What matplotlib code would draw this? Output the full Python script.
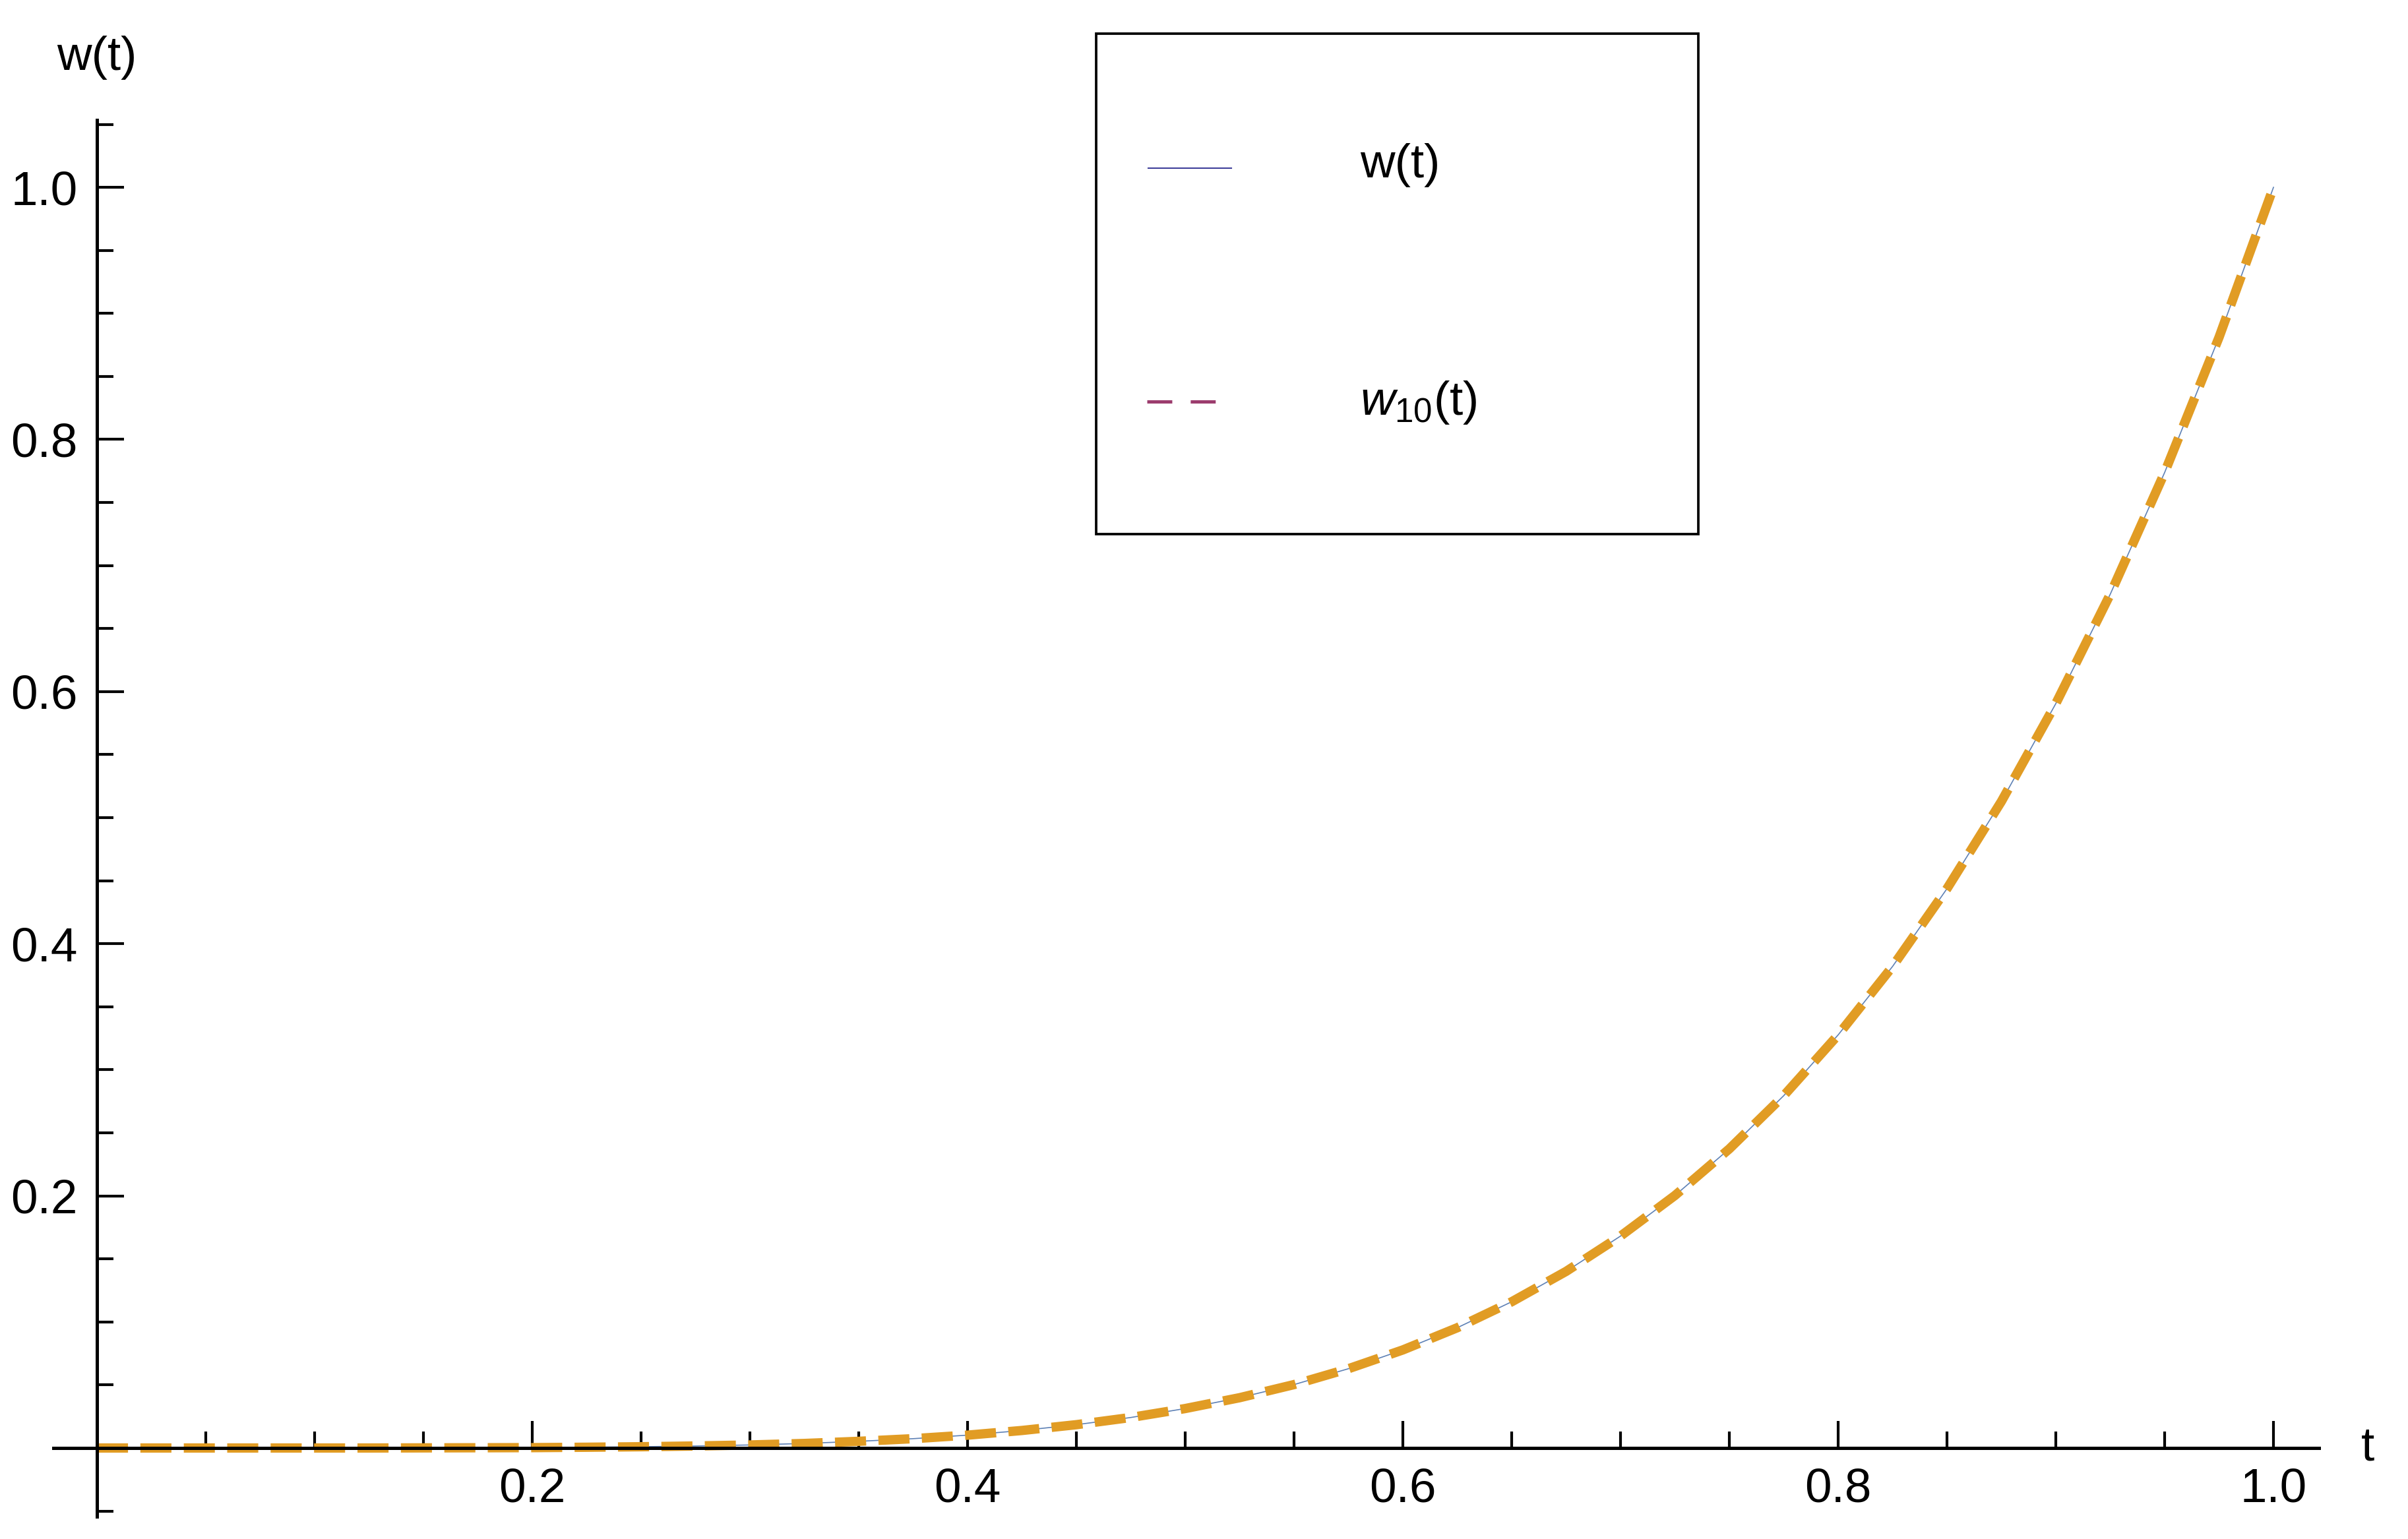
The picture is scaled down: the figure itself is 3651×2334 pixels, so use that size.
import matplotlib
matplotlib.use("Agg")
import matplotlib.pyplot as plt
from matplotlib.lines import Line2D
from matplotlib.patches import Rectangle

plt.rcParams['font.family'] = ['Liberation Sans', 'DejaVu Sans']
plt.rcParams['mathtext.fontset'] = 'custom'
plt.rcParams['mathtext.rm'] = 'Liberation Sans'
plt.rcParams['mathtext.it'] = 'Liberation Sans:italic'
plt.rcParams['lines.scale_dashes'] = False

# valeurs
t = [0.0, 0.025, 0.05, 0.075, 0.1, 0.125, 0.15, 0.175, 0.2, 0.225,
     0.25, 0.275, 0.3, 0.325, 0.35, 0.375, 0.4, 0.425, 0.45, 0.475,
     0.5, 0.525, 0.55, 0.575, 0.6, 0.625, 0.65, 0.675, 0.7, 0.725,
     0.75, 0.775, 0.8, 0.825, 0.85, 0.875, 0.9, 0.925, 0.95, 0.975, 1.0]
w = [0.0, 0.0, 0.0, 0.0, 0.0, 0.0, 0.0001, 0.0002, 0.0003, 0.0006,
     0.001, 0.0016, 0.0024, 0.0036, 0.0053, 0.0074, 0.0102, 0.0139, 0.0185, 0.0242,
     0.0313, 0.0399, 0.0503, 0.0629, 0.0778, 0.0954, 0.116, 0.1401, 0.1681, 0.2003,
     0.2373, 0.2795, 0.3277, 0.382, 0.4437, 0.5129, 0.5905, 0.6772, 0.7738, 0.8811, 1.0]
w10 = [0.0, 0.0, 0.0, 0.0, 0.0, 0.0, 0.0001, 0.0002, 0.0003, 0.0006,
       0.001, 0.0016, 0.0024, 0.0036, 0.0053, 0.0074, 0.0102, 0.0139, 0.0185, 0.0242,
       0.0313, 0.0399, 0.0503, 0.0629, 0.0778, 0.0954, 0.116, 0.1401, 0.1681, 0.2003,
       0.2373, 0.2795, 0.3277, 0.382, 0.4437, 0.5129, 0.5905, 0.6772, 0.7738, 0.8811, 1.0]

x_major = [0.2, 0.4, 0.6, 0.8, 1.0]
y_major = [0.2, 0.4, 0.6, 0.8, 1.0]
x_minor = [0.05, 0.1, 0.15, 0.25, 0.3, 0.35, 0.45, 0.5, 0.55, 0.65, 0.7, 0.75, 0.85, 0.9, 0.95]
y_minor = [-0.05, 0.05, 0.1, 0.15, 0.25, 0.3, 0.35, 0.45, 0.5, 0.55, 0.65, 0.7, 0.75,
           0.85, 0.9, 0.95, 1.05]
tick_labels = ["0.2", "0.4", "0.6", "0.8", "1.0"]

W, H = 3651, 2334
fig = plt.figure(figsize=(W / 300, H / 300), dpi=300)


def fx(px):
    return px / W


def fy(py):
    return 1 - py / H


# position des axes (pixels de la figure)
ax = fig.add_axes([fx(81), fy(2300), fx(3516) - fx(81), fy(182) - fy(2300)])
ax.set_xlim(-0.02, 1.0209)
ax.set_ylim(-0.0544, 1.0534)

ax.plot(t, w, color='#5E81B5', lw=0.4, zorder=2)
ax.plot(t, w10, color='#E19C24', lw=3.4, dashes=(11.3, 4.5),
        dash_capstyle='butt', zorder=2.1)

for s in ['top', 'right']:
    ax.spines[s].set_visible(False)
for s in ['left', 'bottom']:
    ax.spines[s].set_position(('data', 0))
    ax.spines[s].set_linewidth(1.2)

ax.set_xticks(x_major, tick_labels)
ax.set_yticks(y_major, tick_labels)
ax.set_xticks(x_minor, minor=True)
ax.set_yticks(y_minor, minor=True)
ax.tick_params(which='major', direction='in', length=9.8, width=1.0,
               labelsize=17.5, pad=7)
ax.tick_params(which='minor', direction='in', length=6, width=1.0)

ax.annotate("t", xy=(1, 0), xycoords=('axes fraction', 'data'),
            xytext=(17.8, 0), textcoords='offset points',
            ha='center', va='center', fontsize=17.5)
ax.annotate("w(t)", xy=(0, 1), xycoords=('data', 'axes fraction'),
            xytext=(0, 22.6), textcoords='offset points',
            ha='center', va='center', fontsize=17.5)

# légende dessinée à la main
fig.add_artist(Rectangle((fx(1662), fy(810)), fx(2575) - fx(1662), fy(51) - fy(810),
                         transform=fig.transFigure, fill=False, ec='black', lw=0.9))
fig.add_artist(Line2D([fx(1741), fx(1867)], [fy(255), fy(255)],
                      transform=fig.transFigure, color='#3F3F9A', lw=0.5))
fig.add_artist(Line2D([fx(1739), fx(1843)], [fy(609), fy(609)],
                      transform=fig.transFigure, color='#9C3D6E', lw=1.2,
                      dashes=(9.1, 6.7), dash_capstyle='butt'))
fig.text(fx(2062), fy(251), "w(t)", ha='left', va='center', fontsize=17.5)
fig.text(fx(2062), fy(611), r"$\mathit{w}_{10}$(t)", ha='left', va='center', fontsize=17.5)

fig.savefig("out.png", dpi=300)
